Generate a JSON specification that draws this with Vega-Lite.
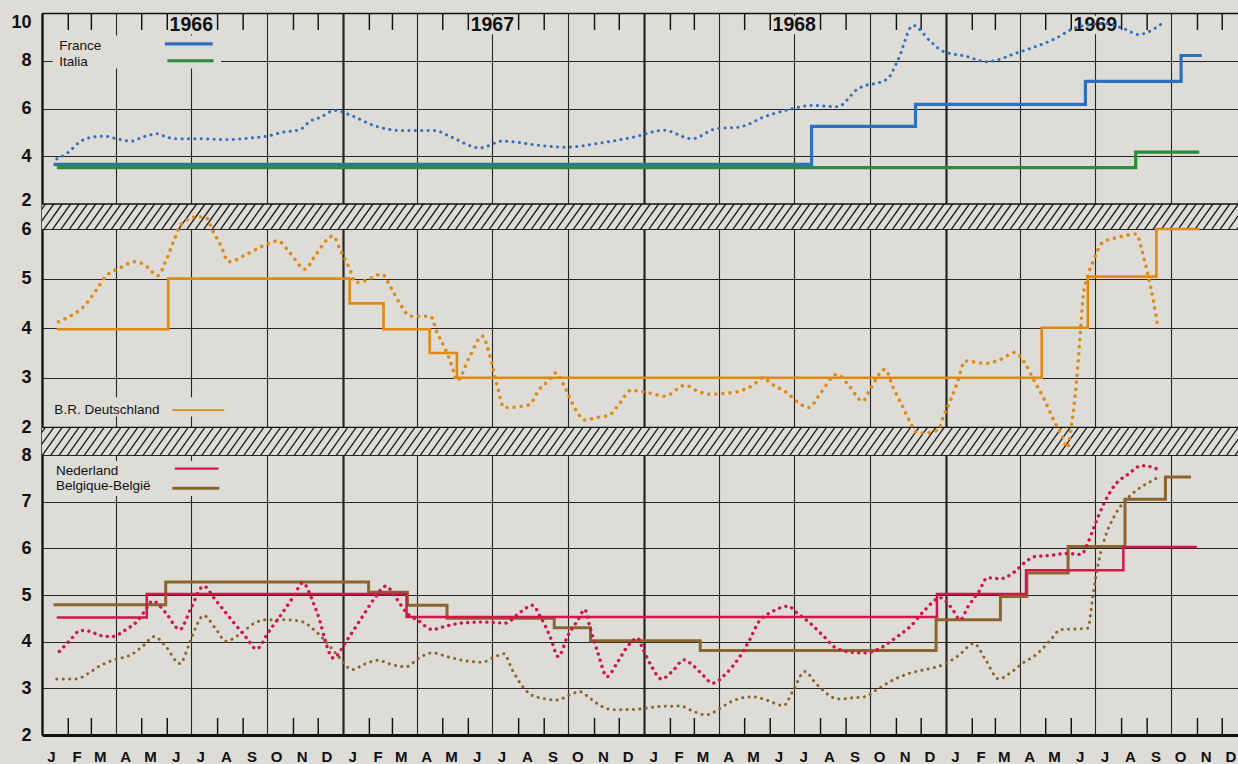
{
"$schema": "https://vega.github.io/schema/vega-lite/v6.json",
"background": "#dddcd7",
"padding": {"left": 10, "top": 13, "right": 0, "bottom": 0},
"spacing": 0,
"bounds": "flush",
"resolve": {"scale": {"x": "independent", "y": "independent"}},
"config": {"view": {"stroke": null}, "axis": {"labelFont": "Liberation Sans", "labelColor": "#111"}},
"datasets": {
"years": [{"yr":"1966","date":"1966-07-01"},{"yr":"1967","date":"1967-07-01"},{"yr":"1968","date":"1968-07-01"},{"yr":"1969","date":"1969-07-01"}],
"fr_step": [{"date":"1966-01-15","v":3.66},{"date":"1968-07-22","v":5.25},{"date":"1968-11-25","v":6.17},{"date":"1969-06-19","v":7.14},{"date":"1969-10-13","v":8.22},{"date":"1969-11-07","v":8.22}],
"it_step": [{"date":"1966-01-19","v":3.52},{"date":"1969-08-19","v":4.17},{"date":"1969-11-04","v":4.17}],
"fr_mkt": [{"date":"1966-01-19","v":3.89},{"date":"1966-02-01","v":4.14},{"date":"1966-02-17","v":4.63},{"date":"1966-03-03","v":4.8},{"date":"1966-03-17","v":4.84},{"date":"1966-04-01","v":4.74},{"date":"1966-04-19","v":4.63},{"date":"1966-05-03","v":4.8},{"date":"1966-05-21","v":4.94},{"date":"1966-06-01","v":4.8},{"date":"1966-06-16","v":4.73},{"date":"1966-07-10","v":4.73},{"date":"1966-08-13","v":4.7},{"date":"1966-09-13","v":4.77},{"date":"1966-10-01","v":4.84},{"date":"1966-10-19","v":5.0},{"date":"1966-11-10","v":5.12},{"date":"1966-11-22","v":5.47},{"date":"1966-12-04","v":5.62},{"date":"1966-12-22","v":5.92},{"date":"1967-01-13","v":5.68},{"date":"1967-02-07","v":5.29},{"date":"1967-03-13","v":5.08},{"date":"1967-04-22","v":5.08},{"date":"1967-05-10","v":4.84},{"date":"1967-06-16","v":4.35},{"date":"1967-07-13","v":4.63},{"date":"1967-07-28","v":4.6},{"date":"1967-08-19","v":4.49},{"date":"1967-09-28","v":4.38},{"date":"1967-11-10","v":4.56},{"date":"1967-12-19","v":4.8},{"date":"1968-01-25","v":5.09},{"date":"1968-02-28","v":4.73},{"date":"1968-03-28","v":5.15},{"date":"1968-04-25","v":5.22},{"date":"1968-05-28","v":5.68},{"date":"1968-06-25","v":5.96},{"date":"1968-07-22","v":6.13},{"date":"1968-08-22","v":6.07},{"date":"1968-09-16","v":6.82},{"date":"1968-10-22","v":7.24},{"date":"1968-11-04","v":8.05},{"date":"1968-11-22","v":9.48},{"date":"1968-12-13","v":8.82},{"date":"1968-12-28","v":8.4},{"date":"1969-01-25","v":8.19},{"date":"1969-02-19","v":7.96},{"date":"1969-03-28","v":8.33},{"date":"1969-05-13","v":8.92},{"date":"1969-06-07","v":9.38},{"date":"1969-07-13","v":9.56},{"date":"1969-08-07","v":9.31},{"date":"1969-08-22","v":9.1},{"date":"1969-09-22","v":9.61}],
"de_step": [{"date":"1966-01-19","v":3.98},{"date":"1966-06-03","v":5.0},{"date":"1967-01-09","v":4.5},{"date":"1967-02-19","v":3.98},{"date":"1967-04-16","v":3.5},{"date":"1967-05-19","v":3.0},{"date":"1969-04-27","v":4.01},{"date":"1969-06-22","v":5.04},{"date":"1969-09-13","v":6.0},{"date":"1969-11-04","v":6.0}],
"de_mkt": [{"date":"1966-01-21","v":4.13},{"date":"1966-02-05","v":4.25},{"date":"1966-02-23","v":4.48},{"date":"1966-03-07","v":4.75},{"date":"1966-03-19","v":5.04},{"date":"1966-04-05","v":5.21},{"date":"1966-04-25","v":5.34},{"date":"1966-05-09","v":5.23},{"date":"1966-05-21","v":5.06},{"date":"1966-06-01","v":5.39},{"date":"1966-06-09","v":5.73},{"date":"1966-06-19","v":6.1},{"date":"1966-07-06","v":6.24},{"date":"1966-07-18","v":6.24},{"date":"1966-07-28","v":5.93},{"date":"1966-08-06","v":5.66},{"date":"1966-08-15","v":5.34},{"date":"1966-09-06","v":5.49},{"date":"1966-09-26","v":5.66},{"date":"1966-10-14","v":5.76},{"date":"1966-10-28","v":5.53},{"date":"1966-11-16","v":5.19},{"date":"1966-11-28","v":5.46},{"date":"1966-12-20","v":5.86},{"date":"1966-12-28","v":5.6},{"date":"1967-01-10","v":5.16},{"date":"1967-01-16","v":4.92},{"date":"1967-01-28","v":4.96},{"date":"1967-02-17","v":5.09},{"date":"1967-02-28","v":4.82},{"date":"1967-03-10","v":4.52},{"date":"1967-03-24","v":4.24},{"date":"1967-04-17","v":4.24},{"date":"1967-04-25","v":3.91},{"date":"1967-05-04","v":3.61},{"date":"1967-05-13","v":3.24},{"date":"1967-05-19","v":2.94},{"date":"1967-06-03","v":3.41},{"date":"1967-06-19","v":3.84},{"date":"1967-06-28","v":3.44},{"date":"1967-07-07","v":2.83},{"date":"1967-07-15","v":2.4},{"date":"1967-08-03","v":2.42},{"date":"1967-08-15","v":2.46},{"date":"1967-08-27","v":2.77},{"date":"1967-09-07","v":2.94},{"date":"1967-09-16","v":3.1},{"date":"1967-09-28","v":2.77},{"date":"1967-10-10","v":2.36},{"date":"1967-10-21","v":2.15},{"date":"1967-11-04","v":2.2},{"date":"1967-11-19","v":2.24},{"date":"1967-12-03","v":2.5},{"date":"1967-12-16","v":2.75},{"date":"1967-12-26","v":2.73},{"date":"1968-01-13","v":2.67},{"date":"1968-01-26","v":2.63},{"date":"1968-02-20","v":2.85},{"date":"1968-03-06","v":2.73},{"date":"1968-03-19","v":2.67},{"date":"1968-04-10","v":2.69},{"date":"1968-04-25","v":2.73},{"date":"1968-05-12","v":2.85},{"date":"1968-05-24","v":3.0},{"date":"1968-06-04","v":2.87},{"date":"1968-06-22","v":2.7},{"date":"1968-07-05","v":2.51},{"date":"1968-07-19","v":2.4},{"date":"1968-08-01","v":2.67},{"date":"1968-08-22","v":3.07},{"date":"1968-09-04","v":2.87},{"date":"1968-09-22","v":2.53},{"date":"1968-10-01","v":2.77},{"date":"1968-10-19","v":3.17},{"date":"1968-10-29","v":2.8},{"date":"1968-11-10","v":2.4},{"date":"1968-11-19","v":2.09},{"date":"1968-11-27","v":1.89},{"date":"1968-12-09","v":1.89},{"date":"1968-12-23","v":1.96},{"date":"1968-12-29","v":2.23},{"date":"1969-01-07","v":2.57},{"date":"1969-01-16","v":2.97},{"date":"1969-01-24","v":3.34},{"date":"1969-02-18","v":3.29},{"date":"1969-03-08","v":3.37},{"date":"1969-03-26","v":3.51},{"date":"1969-04-06","v":3.31},{"date":"1969-04-18","v":2.94},{"date":"1969-04-30","v":2.57},{"date":"1969-05-12","v":2.13},{"date":"1969-05-22","v":1.82},{"date":"1969-05-28","v":1.59},{"date":"1969-06-02","v":2.03},{"date":"1969-06-08","v":2.9},{"date":"1969-06-12","v":3.71},{"date":"1969-06-16","v":4.59},{"date":"1969-06-22","v":5.06},{"date":"1969-06-28","v":5.33},{"date":"1969-07-10","v":5.73},{"date":"1969-07-28","v":5.83},{"date":"1969-08-20","v":5.9},{"date":"1969-08-26","v":5.6},{"date":"1969-09-03","v":5.06},{"date":"1969-09-09","v":4.59},{"date":"1969-09-14","v":4.1}],
"nl_step": [{"date":"1966-01-19","v":4.52},{"date":"1966-05-08","v":5.02},{"date":"1967-03-19","v":4.53},{"date":"1968-12-21","v":5.02},{"date":"1969-04-08","v":5.53},{"date":"1969-08-04","v":6.03},{"date":"1969-11-01","v":6.03}],
"be_step": [{"date":"1966-01-15","v":4.79},{"date":"1966-05-31","v":5.28},{"date":"1967-02-01","v":5.06},{"date":"1967-03-20","v":4.78},{"date":"1967-05-07","v":4.5},{"date":"1967-09-14","v":4.3},{"date":"1967-10-28","v":4.02},{"date":"1968-03-09","v":3.81},{"date":"1968-12-20","v":4.47},{"date":"1969-03-08","v":4.97},{"date":"1969-04-09","v":5.47},{"date":"1969-05-29","v":6.04},{"date":"1969-08-06","v":7.05},{"date":"1969-09-24","v":7.53},{"date":"1969-10-25","v":7.53}],
"nl_mkt": [{"date":"1966-01-22","v":3.79},{"date":"1966-02-03","v":4.01},{"date":"1966-02-17","v":4.24},{"date":"1966-02-28","v":4.22},{"date":"1966-03-13","v":4.13},{"date":"1966-03-27","v":4.11},{"date":"1966-04-13","v":4.26},{"date":"1966-04-27","v":4.45},{"date":"1966-05-07","v":4.69},{"date":"1966-05-15","v":4.87},{"date":"1966-05-31","v":4.62},{"date":"1966-06-17","v":4.26},{"date":"1966-06-30","v":4.69},{"date":"1966-07-16","v":5.19},{"date":"1966-07-30","v":4.9},{"date":"1966-08-20","v":4.44},{"date":"1966-09-06","v":4.08},{"date":"1966-09-18","v":3.84},{"date":"1966-10-02","v":4.19},{"date":"1966-10-18","v":4.58},{"date":"1966-11-02","v":4.97},{"date":"1966-11-13","v":5.26},{"date":"1966-11-26","v":4.83},{"date":"1966-12-04","v":4.44},{"date":"1966-12-10","v":4.04},{"date":"1966-12-20","v":3.65},{"date":"1967-01-06","v":4.04},{"date":"1967-01-22","v":4.47},{"date":"1967-02-07","v":4.9},{"date":"1967-02-22","v":5.19},{"date":"1967-03-06","v":4.94},{"date":"1967-03-19","v":4.62},{"date":"1967-04-03","v":4.44},{"date":"1967-04-19","v":4.26},{"date":"1967-05-05","v":4.33},{"date":"1967-05-25","v":4.4},{"date":"1967-06-19","v":4.42},{"date":"1967-07-17","v":4.4},{"date":"1967-08-03","v":4.62},{"date":"1967-08-19","v":4.78},{"date":"1967-08-28","v":4.54},{"date":"1967-09-09","v":4.11},{"date":"1967-09-19","v":3.68},{"date":"1967-09-30","v":4.11},{"date":"1967-10-13","v":4.47},{"date":"1967-10-21","v":4.69},{"date":"1967-10-27","v":4.33},{"date":"1967-11-06","v":3.76},{"date":"1967-11-17","v":3.25},{"date":"1967-11-29","v":3.54},{"date":"1967-12-12","v":3.9},{"date":"1967-12-24","v":4.08},{"date":"1967-12-30","v":3.86},{"date":"1968-01-10","v":3.47},{"date":"1968-01-22","v":3.2},{"date":"1968-02-06","v":3.4},{"date":"1968-02-18","v":3.61},{"date":"1968-02-28","v":3.51},{"date":"1968-03-12","v":3.29},{"date":"1968-03-24","v":3.11},{"date":"1968-04-10","v":3.33},{"date":"1968-04-26","v":3.68},{"date":"1968-05-08","v":4.04},{"date":"1968-05-18","v":4.4},{"date":"1968-06-04","v":4.64},{"date":"1968-06-24","v":4.76},{"date":"1968-07-04","v":4.62},{"date":"1968-07-20","v":4.4},{"date":"1968-08-06","v":4.11},{"date":"1968-08-21","v":3.86},{"date":"1968-09-11","v":3.77},{"date":"1968-09-27","v":3.76},{"date":"1968-10-13","v":3.86},{"date":"1968-11-03","v":4.11},{"date":"1968-11-19","v":4.33},{"date":"1968-12-07","v":4.69},{"date":"1968-12-25","v":4.94},{"date":"1969-01-09","v":4.69},{"date":"1969-01-18","v":4.47},{"date":"1969-01-28","v":4.76},{"date":"1969-02-10","v":5.08},{"date":"1969-02-20","v":5.37},{"date":"1969-03-08","v":5.35},{"date":"1969-03-24","v":5.48},{"date":"1969-04-06","v":5.69},{"date":"1969-04-18","v":5.82},{"date":"1969-05-08","v":5.85},{"date":"1969-05-28","v":5.89},{"date":"1969-06-14","v":5.87},{"date":"1969-06-22","v":6.12},{"date":"1969-06-30","v":6.48},{"date":"1969-07-12","v":6.98},{"date":"1969-07-24","v":7.34},{"date":"1969-08-10","v":7.59},{"date":"1969-08-26","v":7.77},{"date":"1969-09-08","v":7.74},{"date":"1969-09-18","v":7.66}],
"be_mkt": [{"date":"1966-01-19","v":3.2},{"date":"1966-02-11","v":3.2},{"date":"1966-02-27","v":3.33},{"date":"1966-03-11","v":3.47},{"date":"1966-03-29","v":3.61},{"date":"1966-04-19","v":3.72},{"date":"1966-05-03","v":3.9},{"date":"1966-05-17","v":4.11},{"date":"1966-05-31","v":3.9},{"date":"1966-06-17","v":3.53},{"date":"1966-06-29","v":3.97},{"date":"1966-07-06","v":4.29},{"date":"1966-07-16","v":4.56},{"date":"1966-07-30","v":4.29},{"date":"1966-08-12","v":4.01},{"date":"1966-08-28","v":4.15},{"date":"1966-09-16","v":4.4},{"date":"1966-09-30","v":4.47},{"date":"1966-10-20","v":4.47},{"date":"1966-11-10","v":4.44},{"date":"1966-11-29","v":4.22},{"date":"1966-12-16","v":3.9},{"date":"1966-12-28","v":3.65},{"date":"1967-01-12","v":3.4},{"date":"1967-01-26","v":3.51},{"date":"1967-02-12","v":3.6},{"date":"1967-03-01","v":3.51},{"date":"1967-03-18","v":3.46},{"date":"1967-04-03","v":3.65},{"date":"1967-04-19","v":3.76},{"date":"1967-05-09","v":3.67},{"date":"1967-05-29","v":3.59},{"date":"1967-06-19","v":3.56},{"date":"1967-07-01","v":3.65},{"date":"1967-07-15","v":3.74},{"date":"1967-07-25","v":3.4},{"date":"1967-08-05","v":3.08},{"date":"1967-08-17","v":2.86},{"date":"1967-08-30","v":2.79},{"date":"1967-09-17","v":2.75},{"date":"1967-10-03","v":2.86},{"date":"1967-10-15","v":2.93},{"date":"1967-10-27","v":2.79},{"date":"1967-11-11","v":2.61},{"date":"1967-11-24","v":2.54},{"date":"1967-12-21","v":2.55},{"date":"1968-01-20","v":2.61},{"date":"1968-02-14","v":2.62},{"date":"1968-02-28","v":2.52},{"date":"1968-03-16","v":2.43},{"date":"1968-04-02","v":2.57},{"date":"1968-04-16","v":2.72},{"date":"1968-05-12","v":2.82},{"date":"1968-05-28","v":2.75},{"date":"1968-06-18","v":2.63},{"date":"1968-06-29","v":2.93},{"date":"1968-07-14","v":3.36},{"date":"1968-07-27","v":3.11},{"date":"1968-08-24","v":2.77},{"date":"1968-09-11","v":2.8},{"date":"1968-09-25","v":2.82},{"date":"1968-10-09","v":2.97},{"date":"1968-10-29","v":3.18},{"date":"1968-11-19","v":3.33},{"date":"1968-12-09","v":3.41},{"date":"1968-12-29","v":3.51},{"date":"1969-01-16","v":3.7},{"date":"1969-02-04","v":3.96},{"date":"1969-02-18","v":3.61},{"date":"1969-03-06","v":3.2},{"date":"1969-03-20","v":3.33},{"date":"1969-04-04","v":3.54},{"date":"1969-04-20","v":3.72},{"date":"1969-05-08","v":4.04},{"date":"1969-05-20","v":4.26},{"date":"1969-06-06","v":4.27},{"date":"1969-06-22","v":4.29},{"date":"1969-06-28","v":4.97},{"date":"1969-07-04","v":5.62},{"date":"1969-07-12","v":6.19},{"date":"1969-07-24","v":6.69},{"date":"1969-08-10","v":7.09},{"date":"1969-08-22","v":7.27},{"date":"1969-09-08","v":7.45},{"date":"1969-09-18","v":7.55}]
},
"vconcat": [
{
"width": 1196, "height": 216,
"layer": [
{"data": {"values": [{}]}, "mark": {"type": "rect", "fill": "#dddcd7"}, "encoding": {
 "x": {"datum": {"year":1966,"month":1,"date":1,"utc":true}, "type": "temporal", "scale": {"type": "utc", "nice": false, "domain": [{"year":1966,"month":1,"date":1,"utc":true},{"year":1969,"month":12,"date":21,"utc":true}]},
  "axis": {"orient": "top", "title": null, "tickCount": {"interval": "month", "step": 1}, "labels": false, "ticks": false, "domain": true, "domainColor": "#111", "domainWidth": 1.5, "grid": true, "gridColor": "#111", "gridOpacity": {"condition": {"test": "utcmonth(datum.value) % 3 === 0", "value": 0.9}, "value": 0}, "gridWidth": {"condition": {"test": "utcmonth(datum.value) === 0", "value": 2.2}, "value": 1.1}}},
 "x2": {"datum": {"year":1969,"month":12,"date":21,"utc":true}},
 "y": {"datum": 0.953, "type": "quantitative", "scale": {"domain": [0.953, 10], "nice": false, "zero": false},
  "axis": {"title": null, "values": [2,4,6,8,10], "ticks": false, "domain": true, "domainColor": "#111", "domainWidth": 1.6, "grid": true, "gridColor": "#111", "gridOpacity": 0.9, "gridWidth": 1.1, "labelFontSize": 18, "labelFontWeight": "bold", "labelPadding": 11, "labelFlush": true, "labelOffset": {"condition": {"test": "datum.value === 2", "value": -4}, "value": 0}}},
 "y2": {"datum": 2}}},
{"data": {"values": [{}]}, "mark": {"type": "point", "clip": true, "size": 4, "filled": false, "stroke": "#1c1c1c", "strokeWidth": 1.3, "opacity": 1, "shape": "M-25,28l20,-28m-11.6,28l20,-28m-11.6,28l20,-28m-11.6,28l20,-28m-11.6,28l20,-28m-11.6,28l20,-28m-11.6,28l20,-28m-11.6,28l20,-28m-11.6,28l20,-28m-11.6,28l20,-28m-11.6,28l20,-28m-11.6,28l20,-28m-11.6,28l20,-28m-11.6,28l20,-28m-11.6,28l20,-28m-11.6,28l20,-28m-11.6,28l20,-28m-11.6,28l20,-28m-11.6,28l20,-28m-11.6,28l20,-28m-11.6,28l20,-28m-11.6,28l20,-28m-11.6,28l20,-28m-11.6,28l20,-28m-11.6,28l20,-28m-11.6,28l20,-28m-11.6,28l20,-28m-11.6,28l20,-28m-11.6,28l20,-28m-11.6,28l20,-28m-11.6,28l20,-28m-11.6,28l20,-28m-11.6,28l20,-28m-11.6,28l20,-28m-11.6,28l20,-28m-11.6,28l20,-28m-11.6,28l20,-28m-11.6,28l20,-28m-11.6,28l20,-28m-11.6,28l20,-28m-11.6,28l20,-28m-11.6,28l20,-28m-11.6,28l20,-28m-11.6,28l20,-28m-11.6,28l20,-28m-11.6,28l20,-28m-11.6,28l20,-28m-11.6,28l20,-28m-11.6,28l20,-28m-11.6,28l20,-28m-11.6,28l20,-28m-11.6,28l20,-28m-11.6,28l20,-28m-11.6,28l20,-28m-11.6,28l20,-28m-11.6,28l20,-28m-11.6,28l20,-28m-11.6,28l20,-28m-11.6,28l20,-28m-11.6,28l20,-28m-11.6,28l20,-28m-11.6,28l20,-28m-11.6,28l20,-28m-11.6,28l20,-28m-11.6,28l20,-28m-11.6,28l20,-28m-11.6,28l20,-28m-11.6,28l20,-28m-11.6,28l20,-28m-11.6,28l20,-28m-11.6,28l20,-28m-11.6,28l20,-28m-11.6,28l20,-28m-11.6,28l20,-28m-11.6,28l20,-28m-11.6,28l20,-28m-11.6,28l20,-28m-11.6,28l20,-28m-11.6,28l20,-28m-11.6,28l20,-28m-11.6,28l20,-28m-11.6,28l20,-28m-11.6,28l20,-28m-11.6,28l20,-28m-11.6,28l20,-28m-11.6,28l20,-28m-11.6,28l20,-28m-11.6,28l20,-28m-11.6,28l20,-28m-11.6,28l20,-28m-11.6,28l20,-28m-11.6,28l20,-28m-11.6,28l20,-28m-11.6,28l20,-28m-11.6,28l20,-28m-11.6,28l20,-28m-11.6,28l20,-28m-11.6,28l20,-28m-11.6,28l20,-28m-11.6,28l20,-28m-11.6,28l20,-28m-11.6,28l20,-28m-11.6,28l20,-28m-11.6,28l20,-28m-11.6,28l20,-28m-11.6,28l20,-28m-11.6,28l20,-28m-11.6,28l20,-28m-11.6,28l20,-28m-11.6,28l20,-28m-11.6,28l20,-28m-11.6,28l20,-28m-11.6,28l20,-28m-11.6,28l20,-28m-11.6,28l20,-28m-11.6,28l20,-28m-11.6,28l20,-28m-11.6,28l20,-28m-11.6,28l20,-28m-11.6,28l20,-28m-11.6,28l20,-28m-11.6,28l20,-28m-11.6,28l20,-28m-11.6,28l20,-28m-11.6,28l20,-28m-11.6,28l20,-28m-11.6,28l20,-28m-11.6,28l20,-28m-11.6,28l20,-28m-11.6,28l20,-28m-11.6,28l20,-28m-11.6,28l20,-28m-11.6,28l20,-28m-11.6,28l20,-28m-11.6,28l20,-28m-11.6,28l20,-28m-11.6,28l20,-28m-11.6,28l20,-28m-11.6,28l20,-28m-11.6,28l20,-28m-11.6,28l20,-28m-11.6,28l20,-28m-11.6,28l20,-28m-11.6,28l20,-28m-11.6,28l20,-28m-11.6,28l20,-28m-11.6,28l20,-28m-11.6,28l20,-28m-11.6,28l20,-28m-11.6,28l20,-28m-11.6,28l20,-28m-11.6,28l20,-28m-11.6,28l20,-28m-11.6,28l20,-28m-11.6,28l20,-28m-11.6,28l20,-28m-11.6,28"}, "encoding": {"x": {"datum": {"year":1966,"month":1,"date":1,"utc":true}}, "y": {"datum": 2}}},
{"data": {"values": [{}]}, "mark": {"type": "rule", "color": "#111", "strokeWidth": 1.3}, "encoding": {"x": {"datum": {"year":1966,"month":1,"date":1,"utc":true}}, "x2": {"datum": {"year":1969,"month":12,"date":21,"utc":true}}, "y": {"datum": 2}}},
{"data": {"values": [{}]}, "mark": {"type": "rect", "fill": "#dddcd7"}, "encoding": {"x": {"datum": {"year":1966,"month":1,"date":14,"utc":true}}, "x2": {"datum": {"year":1966,"month":8,"date":6,"utc":true}}, "y": {"datum": 7.68}, "y2": {"datum": 9.06}}},
{"data": {"name": "years"}, "mark": {"type": "point", "shape": "M-1,-0.4L1,-0.4L1,0.4L-1,0.4Z", "size": 2116, "filled": true, "fill": "#dddcd7", "strokeWidth": 0, "opacity": 1}, "encoding": {"x": {"field": "date", "type": "temporal"}, "y": {"datum": 9.5}}},
{"data": {"name": "years"}, "mark": {"type": "text", "font": "Liberation Sans", "fontSize": 19.5, "fontWeight": "bold", "color": "#111", "align": "center", "baseline": "middle"}, "encoding": {"x": {"field": "date", "type": "temporal"}, "y": {"datum": 9.5}, "text": {"field": "yr", "type": "nominal"}}},
{"data":{"values":[{}]},"mark":{"type":"rect","fill":"#111"},"encoding":{"x":{"datum":{"year":1966,"month":2,"date":1,"utc":true}},"x2":{"datum":{"year":1966,"month":2,"date":2,"hours":18,"utc":true}},"y":{"datum":10},"y2":{"datum":9.29}}},
{"data":{"values":[{}]},"mark":{"type":"rect","fill":"#111"},"encoding":{"x":{"datum":{"year":1966,"month":3,"date":1,"utc":true}},"x2":{"datum":{"year":1966,"month":3,"date":2,"hours":18,"utc":true}},"y":{"datum":10},"y2":{"datum":9.29}}},
{"data":{"values":[{}]},"mark":{"type":"rect","fill":"#111"},"encoding":{"x":{"datum":{"year":1966,"month":5,"date":1,"utc":true}},"x2":{"datum":{"year":1966,"month":5,"date":2,"hours":18,"utc":true}},"y":{"datum":10},"y2":{"datum":9.29}}},
{"data":{"values":[{}]},"mark":{"type":"rect","fill":"#111"},"encoding":{"x":{"datum":{"year":1966,"month":6,"date":1,"utc":true}},"x2":{"datum":{"year":1966,"month":6,"date":2,"hours":18,"utc":true}},"y":{"datum":10},"y2":{"datum":9.29}}},
{"data":{"values":[{}]},"mark":{"type":"rect","fill":"#111"},"encoding":{"x":{"datum":{"year":1966,"month":8,"date":1,"utc":true}},"x2":{"datum":{"year":1966,"month":8,"date":2,"hours":18,"utc":true}},"y":{"datum":10},"y2":{"datum":9.29}}},
{"data":{"values":[{}]},"mark":{"type":"rect","fill":"#111"},"encoding":{"x":{"datum":{"year":1966,"month":9,"date":1,"utc":true}},"x2":{"datum":{"year":1966,"month":9,"date":2,"hours":18,"utc":true}},"y":{"datum":10},"y2":{"datum":9.29}}},
{"data":{"values":[{}]},"mark":{"type":"rect","fill":"#111"},"encoding":{"x":{"datum":{"year":1966,"month":11,"date":1,"utc":true}},"x2":{"datum":{"year":1966,"month":11,"date":2,"hours":18,"utc":true}},"y":{"datum":10},"y2":{"datum":9.29}}},
{"data":{"values":[{}]},"mark":{"type":"rect","fill":"#111"},"encoding":{"x":{"datum":{"year":1966,"month":12,"date":1,"utc":true}},"x2":{"datum":{"year":1966,"month":12,"date":2,"hours":18,"utc":true}},"y":{"datum":10},"y2":{"datum":9.29}}},
{"data":{"values":[{}]},"mark":{"type":"rect","fill":"#111"},"encoding":{"x":{"datum":{"year":1967,"month":2,"date":1,"utc":true}},"x2":{"datum":{"year":1967,"month":2,"date":2,"hours":18,"utc":true}},"y":{"datum":10},"y2":{"datum":9.29}}},
{"data":{"values":[{}]},"mark":{"type":"rect","fill":"#111"},"encoding":{"x":{"datum":{"year":1967,"month":3,"date":1,"utc":true}},"x2":{"datum":{"year":1967,"month":3,"date":2,"hours":18,"utc":true}},"y":{"datum":10},"y2":{"datum":9.29}}},
{"data":{"values":[{}]},"mark":{"type":"rect","fill":"#111"},"encoding":{"x":{"datum":{"year":1967,"month":5,"date":1,"utc":true}},"x2":{"datum":{"year":1967,"month":5,"date":2,"hours":18,"utc":true}},"y":{"datum":10},"y2":{"datum":9.29}}},
{"data":{"values":[{}]},"mark":{"type":"rect","fill":"#111"},"encoding":{"x":{"datum":{"year":1967,"month":6,"date":1,"utc":true}},"x2":{"datum":{"year":1967,"month":6,"date":2,"hours":18,"utc":true}},"y":{"datum":10},"y2":{"datum":9.29}}},
{"data":{"values":[{}]},"mark":{"type":"rect","fill":"#111"},"encoding":{"x":{"datum":{"year":1967,"month":8,"date":1,"utc":true}},"x2":{"datum":{"year":1967,"month":8,"date":2,"hours":18,"utc":true}},"y":{"datum":10},"y2":{"datum":9.29}}},
{"data":{"values":[{}]},"mark":{"type":"rect","fill":"#111"},"encoding":{"x":{"datum":{"year":1967,"month":9,"date":1,"utc":true}},"x2":{"datum":{"year":1967,"month":9,"date":2,"hours":18,"utc":true}},"y":{"datum":10},"y2":{"datum":9.29}}},
{"data":{"values":[{}]},"mark":{"type":"rect","fill":"#111"},"encoding":{"x":{"datum":{"year":1967,"month":11,"date":1,"utc":true}},"x2":{"datum":{"year":1967,"month":11,"date":2,"hours":18,"utc":true}},"y":{"datum":10},"y2":{"datum":9.29}}},
{"data":{"values":[{}]},"mark":{"type":"rect","fill":"#111"},"encoding":{"x":{"datum":{"year":1967,"month":12,"date":1,"utc":true}},"x2":{"datum":{"year":1967,"month":12,"date":2,"hours":18,"utc":true}},"y":{"datum":10},"y2":{"datum":9.29}}},
{"data":{"values":[{}]},"mark":{"type":"rect","fill":"#111"},"encoding":{"x":{"datum":{"year":1968,"month":2,"date":1,"utc":true}},"x2":{"datum":{"year":1968,"month":2,"date":2,"hours":18,"utc":true}},"y":{"datum":10},"y2":{"datum":9.29}}},
{"data":{"values":[{}]},"mark":{"type":"rect","fill":"#111"},"encoding":{"x":{"datum":{"year":1968,"month":3,"date":1,"utc":true}},"x2":{"datum":{"year":1968,"month":3,"date":2,"hours":18,"utc":true}},"y":{"datum":10},"y2":{"datum":9.29}}},
{"data":{"values":[{}]},"mark":{"type":"rect","fill":"#111"},"encoding":{"x":{"datum":{"year":1968,"month":5,"date":1,"utc":true}},"x2":{"datum":{"year":1968,"month":5,"date":2,"hours":18,"utc":true}},"y":{"datum":10},"y2":{"datum":9.29}}},
{"data":{"values":[{}]},"mark":{"type":"rect","fill":"#111"},"encoding":{"x":{"datum":{"year":1968,"month":6,"date":1,"utc":true}},"x2":{"datum":{"year":1968,"month":6,"date":2,"hours":18,"utc":true}},"y":{"datum":10},"y2":{"datum":9.29}}},
{"data":{"values":[{}]},"mark":{"type":"rect","fill":"#111"},"encoding":{"x":{"datum":{"year":1968,"month":8,"date":1,"utc":true}},"x2":{"datum":{"year":1968,"month":8,"date":2,"hours":18,"utc":true}},"y":{"datum":10},"y2":{"datum":9.29}}},
{"data":{"values":[{}]},"mark":{"type":"rect","fill":"#111"},"encoding":{"x":{"datum":{"year":1968,"month":9,"date":1,"utc":true}},"x2":{"datum":{"year":1968,"month":9,"date":2,"hours":18,"utc":true}},"y":{"datum":10},"y2":{"datum":9.29}}},
{"data":{"values":[{}]},"mark":{"type":"rect","fill":"#111"},"encoding":{"x":{"datum":{"year":1968,"month":11,"date":1,"utc":true}},"x2":{"datum":{"year":1968,"month":11,"date":2,"hours":18,"utc":true}},"y":{"datum":10},"y2":{"datum":9.29}}},
{"data":{"values":[{}]},"mark":{"type":"rect","fill":"#111"},"encoding":{"x":{"datum":{"year":1968,"month":12,"date":1,"utc":true}},"x2":{"datum":{"year":1968,"month":12,"date":2,"hours":18,"utc":true}},"y":{"datum":10},"y2":{"datum":9.29}}},
{"data":{"values":[{}]},"mark":{"type":"rect","fill":"#111"},"encoding":{"x":{"datum":{"year":1969,"month":2,"date":1,"utc":true}},"x2":{"datum":{"year":1969,"month":2,"date":2,"hours":18,"utc":true}},"y":{"datum":10},"y2":{"datum":9.29}}},
{"data":{"values":[{}]},"mark":{"type":"rect","fill":"#111"},"encoding":{"x":{"datum":{"year":1969,"month":3,"date":1,"utc":true}},"x2":{"datum":{"year":1969,"month":3,"date":2,"hours":18,"utc":true}},"y":{"datum":10},"y2":{"datum":9.29}}},
{"data":{"values":[{}]},"mark":{"type":"rect","fill":"#111"},"encoding":{"x":{"datum":{"year":1969,"month":5,"date":1,"utc":true}},"x2":{"datum":{"year":1969,"month":5,"date":2,"hours":18,"utc":true}},"y":{"datum":10},"y2":{"datum":9.29}}},
{"data":{"values":[{}]},"mark":{"type":"rect","fill":"#111"},"encoding":{"x":{"datum":{"year":1969,"month":6,"date":1,"utc":true}},"x2":{"datum":{"year":1969,"month":6,"date":2,"hours":18,"utc":true}},"y":{"datum":10},"y2":{"datum":9.29}}},
{"data":{"values":[{}]},"mark":{"type":"rect","fill":"#111"},"encoding":{"x":{"datum":{"year":1969,"month":8,"date":1,"utc":true}},"x2":{"datum":{"year":1969,"month":8,"date":2,"hours":18,"utc":true}},"y":{"datum":10},"y2":{"datum":9.29}}},
{"data":{"values":[{}]},"mark":{"type":"rect","fill":"#111"},"encoding":{"x":{"datum":{"year":1969,"month":9,"date":1,"utc":true}},"x2":{"datum":{"year":1969,"month":9,"date":2,"hours":18,"utc":true}},"y":{"datum":10},"y2":{"datum":9.29}}},
{"data":{"values":[{}]},"mark":{"type":"rect","fill":"#111"},"encoding":{"x":{"datum":{"year":1969,"month":11,"date":1,"utc":true}},"x2":{"datum":{"year":1969,"month":11,"date":2,"hours":18,"utc":true}},"y":{"datum":10},"y2":{"datum":9.29}}},
{"data":{"values":[{}]},"mark":{"type":"rect","fill":"#111"},"encoding":{"x":{"datum":{"year":1969,"month":12,"date":1,"utc":true}},"x2":{"datum":{"year":1969,"month":12,"date":2,"hours":18,"utc":true}},"y":{"datum":10},"y2":{"datum":9.29}}},
{"data": {"values": [{}]}, "mark": {"type": "text", "font": "Liberation Sans", "fontSize": 13.5, "color": "#111", "align": "left", "baseline": "middle"}, "encoding": {"x": {"datum": {"year":1966,"month":1,"date":22,"utc":true}}, "y": {"datum": 8.61}, "text": {"value": "France"}}},
{"data": {"values": [{}]}, "mark": {"type": "text", "font": "Liberation Sans", "fontSize": 13.5, "color": "#111", "align": "left", "baseline": "middle"}, "encoding": {"x": {"datum": {"year":1966,"month":1,"date":22,"utc":true}}, "y": {"datum": 7.96}, "text": {"value": "Italia"}}},
{"data": {"values": [{}]}, "mark": {"type": "rule", "color": "#2f6fc0", "strokeWidth": 3.2}, "encoding": {"x": {"datum": {"year":1966,"month":5,"date":30,"utc":true}}, "x2": {"datum": {"year":1966,"month":7,"date":27,"utc":true}}, "y": {"datum": 8.71}}},
{"data": {"values": [{}]}, "mark": {"type": "rule", "color": "#2e8b3e", "strokeWidth": 3.2}, "encoding": {"x": {"datum": {"year":1966,"month":6,"date":2,"utc":true}}, "x2": {"datum": {"year":1966,"month":7,"date":28,"utc":true}}, "y": {"datum": 8.0}}},
{"data": {"name": "it_step"}, "mark": {"type": "line", "interpolate": "step-after", "color": "#2e8b3e", "strokeWidth": 3.2}, "encoding": {"x": {"field": "date", "type": "temporal"}, "y": {"field": "v", "type": "quantitative"}}},
{"data": {"name": "fr_step"}, "mark": {"type": "line", "interpolate": "step-after", "color": "#2f6fc0", "strokeWidth": 3.2}, "encoding": {"x": {"field": "date", "type": "temporal"}, "y": {"field": "v", "type": "quantitative"}}},
{"data": {"name": "fr_mkt"}, "mark": {"type": "line", "interpolate": "monotone", "color": "#2f6fc0", "strokeWidth": 3, "strokeDash": [0.1, 6.3], "strokeCap": "round"}, "encoding": {"x": {"field": "date", "type": "temporal"}, "y": {"field": "v", "type": "quantitative"}}}
]
},
{
"width": 1196, "height": 226,
"layer": [
{"data": {"values": [{}]}, "mark": {"type": "rect", "fill": "#dddcd7"}, "encoding": {
 "x": {"datum": {"year":1966,"month":1,"date":1,"utc":true}, "type": "temporal", "scale": {"type": "utc", "nice": false, "domain": [{"year":1966,"month":1,"date":1,"utc":true},{"year":1969,"month":12,"date":21,"utc":true}]},
  "axis": {"orient": "bottom", "title": null, "tickCount": {"interval": "month", "step": 1}, "labels": false, "ticks": false, "domain": false, "grid": true, "gridColor": "#111", "gridOpacity": {"condition": {"test": "utcmonth(datum.value) % 3 === 0", "value": 0.9}, "value": 0}, "gridWidth": {"condition": {"test": "utcmonth(datum.value) === 0", "value": 2.2}, "value": 1.1}}},
 "x2": {"datum": {"year":1969,"month":12,"date":21,"utc":true}},
 "y": {"datum": 1.444, "type": "quantitative", "scale": {"domain": [1.444, 6], "nice": false, "zero": false},
  "axis": {"title": null, "values": [2,3,4,5,6], "ticks": false, "domain": true, "domainColor": "#111", "domainWidth": 1.6, "grid": true, "gridColor": "#111", "gridOpacity": 0.9, "gridWidth": 1.1, "labelFontSize": 18, "labelFontWeight": "bold", "labelPadding": 11}},
 "y2": {"datum": 2}}},
{"data": {"values": [{}]}, "mark": {"type": "point", "clip": true, "size": 4, "filled": false, "stroke": "#1c1c1c", "strokeWidth": 1.3, "opacity": 1, "shape": "M-25,28l20,-28m-11.6,28l20,-28m-11.6,28l20,-28m-11.6,28l20,-28m-11.6,28l20,-28m-11.6,28l20,-28m-11.6,28l20,-28m-11.6,28l20,-28m-11.6,28l20,-28m-11.6,28l20,-28m-11.6,28l20,-28m-11.6,28l20,-28m-11.6,28l20,-28m-11.6,28l20,-28m-11.6,28l20,-28m-11.6,28l20,-28m-11.6,28l20,-28m-11.6,28l20,-28m-11.6,28l20,-28m-11.6,28l20,-28m-11.6,28l20,-28m-11.6,28l20,-28m-11.6,28l20,-28m-11.6,28l20,-28m-11.6,28l20,-28m-11.6,28l20,-28m-11.6,28l20,-28m-11.6,28l20,-28m-11.6,28l20,-28m-11.6,28l20,-28m-11.6,28l20,-28m-11.6,28l20,-28m-11.6,28l20,-28m-11.6,28l20,-28m-11.6,28l20,-28m-11.6,28l20,-28m-11.6,28l20,-28m-11.6,28l20,-28m-11.6,28l20,-28m-11.6,28l20,-28m-11.6,28l20,-28m-11.6,28l20,-28m-11.6,28l20,-28m-11.6,28l20,-28m-11.6,28l20,-28m-11.6,28l20,-28m-11.6,28l20,-28m-11.6,28l20,-28m-11.6,28l20,-28m-11.6,28l20,-28m-11.6,28l20,-28m-11.6,28l20,-28m-11.6,28l20,-28m-11.6,28l20,-28m-11.6,28l20,-28m-11.6,28l20,-28m-11.6,28l20,-28m-11.6,28l20,-28m-11.6,28l20,-28m-11.6,28l20,-28m-11.6,28l20,-28m-11.6,28l20,-28m-11.6,28l20,-28m-11.6,28l20,-28m-11.6,28l20,-28m-11.6,28l20,-28m-11.6,28l20,-28m-11.6,28l20,-28m-11.6,28l20,-28m-11.6,28l20,-28m-11.6,28l20,-28m-11.6,28l20,-28m-11.6,28l20,-28m-11.6,28l20,-28m-11.6,28l20,-28m-11.6,28l20,-28m-11.6,28l20,-28m-11.6,28l20,-28m-11.6,28l20,-28m-11.6,28l20,-28m-11.6,28l20,-28m-11.6,28l20,-28m-11.6,28l20,-28m-11.6,28l20,-28m-11.6,28l20,-28m-11.6,28l20,-28m-11.6,28l20,-28m-11.6,28l20,-28m-11.6,28l20,-28m-11.6,28l20,-28m-11.6,28l20,-28m-11.6,28l20,-28m-11.6,28l20,-28m-11.6,28l20,-28m-11.6,28l20,-28m-11.6,28l20,-28m-11.6,28l20,-28m-11.6,28l20,-28m-11.6,28l20,-28m-11.6,28l20,-28m-11.6,28l20,-28m-11.6,28l20,-28m-11.6,28l20,-28m-11.6,28l20,-28m-11.6,28l20,-28m-11.6,28l20,-28m-11.6,28l20,-28m-11.6,28l20,-28m-11.6,28l20,-28m-11.6,28l20,-28m-11.6,28l20,-28m-11.6,28l20,-28m-11.6,28l20,-28m-11.6,28l20,-28m-11.6,28l20,-28m-11.6,28l20,-28m-11.6,28l20,-28m-11.6,28l20,-28m-11.6,28l20,-28m-11.6,28l20,-28m-11.6,28l20,-28m-11.6,28l20,-28m-11.6,28l20,-28m-11.6,28l20,-28m-11.6,28l20,-28m-11.6,28l20,-28m-11.6,28l20,-28m-11.6,28l20,-28m-11.6,28l20,-28m-11.6,28l20,-28m-11.6,28l20,-28m-11.6,28l20,-28m-11.6,28l20,-28m-11.6,28l20,-28m-11.6,28l20,-28m-11.6,28l20,-28m-11.6,28l20,-28m-11.6,28l20,-28m-11.6,28l20,-28m-11.6,28l20,-28m-11.6,28l20,-28m-11.6,28l20,-28m-11.6,28l20,-28m-11.6,28l20,-28m-11.6,28l20,-28m-11.6,28l20,-28m-11.6,28l20,-28m-11.6,28l20,-28m-11.6,28l20,-28m-11.6,28l20,-28m-11.6,28l20,-28m-11.6,28l20,-28m-11.6,28l20,-28m-11.6,28l20,-28m-11.6,28l20,-28m-11.6,28l20,-28m-11.6,28l20,-28m-11.6,28l20,-28m-11.6,28l20,-28m-11.6,28l20,-28m-11.6,28l20,-28m-11.6,28l20,-28m-11.6,28l20,-28m-11.6,28"}, "encoding": {"x": {"datum": {"year":1966,"month":1,"date":1,"utc":true}}, "y": {"datum": 2}}},
{"data": {"values": [{}]}, "mark": {"type": "rule", "color": "#111", "strokeWidth": 1.3}, "encoding": {"x": {"datum": {"year":1966,"month":1,"date":1,"utc":true}}, "x2": {"datum": {"year":1969,"month":12,"date":21,"utc":true}}, "y": {"datum": 2}}},
{"data": {"values": [{}]}, "mark": {"type": "rect", "fill": "#dddcd7"}, "encoding": {"x": {"datum": {"year":1966,"month":1,"date":14,"utc":true}}, "x2": {"datum": {"year":1966,"month":8,"date":14,"utc":true}}, "y": {"datum": 2.22}, "y2": {"datum": 2.61}}},
{"data": {"values": [{}]}, "mark": {"type": "text", "font": "Liberation Sans", "fontSize": 13.5, "color": "#111", "align": "left", "baseline": "middle"}, "encoding": {"x": {"datum": {"year":1966,"month":1,"date":16,"utc":true}}, "y": {"datum": 2.35}, "text": {"value": "B.R. Deutschland"}}},
{"data": {"values": [{}]}, "mark": {"type": "rule", "color": "#e08a14", "strokeWidth": 1.8}, "encoding": {"x": {"datum": {"year":1966,"month":6,"date":8,"utc":true}}, "x2": {"datum": {"year":1966,"month":8,"date":10,"utc":true}}, "y": {"datum": 2.35}}},
{"data": {"name": "de_step"}, "mark": {"type": "line", "interpolate": "step-after", "color": "#e08a14", "strokeWidth": 2.6}, "encoding": {"x": {"field": "date", "type": "temporal"}, "y": {"field": "v", "type": "quantitative"}}},
{"data": {"name": "de_mkt"}, "mark": {"type": "line", "interpolate": "monotone", "color": "#e08a14", "strokeWidth": 3.5, "strokeDash": [0.1, 7], "strokeCap": "round"}, "encoding": {"x": {"field": "date", "type": "temporal"}, "y": {"field": "v", "type": "quantitative"}}}
]
},
{
"width": 1196, "height": 280,
"layer": [
{"data": {"values": [{}]}, "mark": {"type": "rect", "fill": "#dddcd7"}, "encoding": {
 "x": {"datum": {"year":1966,"month":1,"date":11,"utc":true}, "type": "temporal", "scale": {"type": "utc", "nice": false, "domain": [{"year":1966,"month":1,"date":1,"utc":true},{"year":1969,"month":12,"date":21,"utc":true}]},
  "axis": {"orient": "bottom", "title": null, "tickCount": {"interval": "month", "step": 1}, "ticks": false, "domain": true, "domainColor": "#111", "domainWidth": 3, "grid": true, "gridColor": "#111", "gridOpacity": {"condition": {"test": "utcmonth(datum.value) % 3 === 0", "value": 0.9}, "value": 0}, "gridWidth": {"condition": {"test": "utcmonth(datum.value) === 0", "value": 2.2}, "value": 1.1}, "labels": true, "labelExpr": "upper(substring(utcFormat(datum.value, '%B'), 0, 1))", "labelFontSize": 15, "labelFontWeight": "bold", "labelBaseline": "alphabetic", "labelAlign": "center", "labelPadding": 26.5, "labelOffset": 9, "labelFlush": false, "labelOverlap": false, "labelBound": false}},
 "x2": {"datum": {"year":1966,"month":8,"date":10,"utc":true}},
 "y": {"datum": 7.12, "type": "quantitative", "scale": {"domain": [2, 8], "nice": false, "zero": false},
  "axis": {"title": null, "values": [2,3,4,5,6,7,8], "ticks": false, "domain": true, "domainColor": "#111", "domainWidth": 1.6, "grid": true, "gridColor": "#111", "gridOpacity": 0.9, "gridWidth": 1.1, "labelFontSize": 18, "labelFontWeight": "bold", "labelPadding": 11}},
 "y2": {"datum": 7.87}}},
{"data":{"values":[{}]},"mark":{"type":"rect","fill":"#111"},"encoding":{"x":{"datum":{"year":1966,"month":2,"date":1,"utc":true}},"x2":{"datum":{"year":1966,"month":2,"date":2,"hours":18,"utc":true}},"y":{"datum":2},"y2":{"datum":2.364}}},
{"data":{"values":[{}]},"mark":{"type":"rect","fill":"#111"},"encoding":{"x":{"datum":{"year":1966,"month":3,"date":1,"utc":true}},"x2":{"datum":{"year":1966,"month":3,"date":2,"hours":18,"utc":true}},"y":{"datum":2},"y2":{"datum":2.364}}},
{"data":{"values":[{}]},"mark":{"type":"rect","fill":"#111"},"encoding":{"x":{"datum":{"year":1966,"month":5,"date":1,"utc":true}},"x2":{"datum":{"year":1966,"month":5,"date":2,"hours":18,"utc":true}},"y":{"datum":2},"y2":{"datum":2.364}}},
{"data":{"values":[{}]},"mark":{"type":"rect","fill":"#111"},"encoding":{"x":{"datum":{"year":1966,"month":6,"date":1,"utc":true}},"x2":{"datum":{"year":1966,"month":6,"date":2,"hours":18,"utc":true}},"y":{"datum":2},"y2":{"datum":2.364}}},
{"data":{"values":[{}]},"mark":{"type":"rect","fill":"#111"},"encoding":{"x":{"datum":{"year":1966,"month":8,"date":1,"utc":true}},"x2":{"datum":{"year":1966,"month":8,"date":2,"hours":18,"utc":true}},"y":{"datum":2},"y2":{"datum":2.364}}},
{"data":{"values":[{}]},"mark":{"type":"rect","fill":"#111"},"encoding":{"x":{"datum":{"year":1966,"month":9,"date":1,"utc":true}},"x2":{"datum":{"year":1966,"month":9,"date":2,"hours":18,"utc":true}},"y":{"datum":2},"y2":{"datum":2.364}}},
{"data":{"values":[{}]},"mark":{"type":"rect","fill":"#111"},"encoding":{"x":{"datum":{"year":1966,"month":11,"date":1,"utc":true}},"x2":{"datum":{"year":1966,"month":11,"date":2,"hours":18,"utc":true}},"y":{"datum":2},"y2":{"datum":2.364}}},
{"data":{"values":[{}]},"mark":{"type":"rect","fill":"#111"},"encoding":{"x":{"datum":{"year":1966,"month":12,"date":1,"utc":true}},"x2":{"datum":{"year":1966,"month":12,"date":2,"hours":18,"utc":true}},"y":{"datum":2},"y2":{"datum":2.364}}},
{"data":{"values":[{}]},"mark":{"type":"rect","fill":"#111"},"encoding":{"x":{"datum":{"year":1967,"month":2,"date":1,"utc":true}},"x2":{"datum":{"year":1967,"month":2,"date":2,"hours":18,"utc":true}},"y":{"datum":2},"y2":{"datum":2.364}}},
{"data":{"values":[{}]},"mark":{"type":"rect","fill":"#111"},"encoding":{"x":{"datum":{"year":1967,"month":3,"date":1,"utc":true}},"x2":{"datum":{"year":1967,"month":3,"date":2,"hours":18,"utc":true}},"y":{"datum":2},"y2":{"datum":2.364}}},
{"data":{"values":[{}]},"mark":{"type":"rect","fill":"#111"},"encoding":{"x":{"datum":{"year":1967,"month":5,"date":1,"utc":true}},"x2":{"datum":{"year":1967,"month":5,"date":2,"hours":18,"utc":true}},"y":{"datum":2},"y2":{"datum":2.364}}},
{"data":{"values":[{}]},"mark":{"type":"rect","fill":"#111"},"encoding":{"x":{"datum":{"year":1967,"month":6,"date":1,"utc":true}},"x2":{"datum":{"year":1967,"month":6,"date":2,"hours":18,"utc":true}},"y":{"datum":2},"y2":{"datum":2.364}}},
{"data":{"values":[{}]},"mark":{"type":"rect","fill":"#111"},"encoding":{"x":{"datum":{"year":1967,"month":8,"date":1,"utc":true}},"x2":{"datum":{"year":1967,"month":8,"date":2,"hours":18,"utc":true}},"y":{"datum":2},"y2":{"datum":2.364}}},
{"data":{"values":[{}]},"mark":{"type":"rect","fill":"#111"},"encoding":{"x":{"datum":{"year":1967,"month":9,"date":1,"utc":true}},"x2":{"datum":{"year":1967,"month":9,"date":2,"hours":18,"utc":true}},"y":{"datum":2},"y2":{"datum":2.364}}},
{"data":{"values":[{}]},"mark":{"type":"rect","fill":"#111"},"encoding":{"x":{"datum":{"year":1967,"month":11,"date":1,"utc":true}},"x2":{"datum":{"year":1967,"month":11,"date":2,"hours":18,"utc":true}},"y":{"datum":2},"y2":{"datum":2.364}}},
{"data":{"values":[{}]},"mark":{"type":"rect","fill":"#111"},"encoding":{"x":{"datum":{"year":1967,"month":12,"date":1,"utc":true}},"x2":{"datum":{"year":1967,"month":12,"date":2,"hours":18,"utc":true}},"y":{"datum":2},"y2":{"datum":2.364}}},
{"data":{"values":[{}]},"mark":{"type":"rect","fill":"#111"},"encoding":{"x":{"datum":{"year":1968,"month":2,"date":1,"utc":true}},"x2":{"datum":{"year":1968,"month":2,"date":2,"hours":18,"utc":true}},"y":{"datum":2},"y2":{"datum":2.364}}},
{"data":{"values":[{}]},"mark":{"type":"rect","fill":"#111"},"encoding":{"x":{"datum":{"year":1968,"month":3,"date":1,"utc":true}},"x2":{"datum":{"year":1968,"month":3,"date":2,"hours":18,"utc":true}},"y":{"datum":2},"y2":{"datum":2.364}}},
{"data":{"values":[{}]},"mark":{"type":"rect","fill":"#111"},"encoding":{"x":{"datum":{"year":1968,"month":5,"date":1,"utc":true}},"x2":{"datum":{"year":1968,"month":5,"date":2,"hours":18,"utc":true}},"y":{"datum":2},"y2":{"datum":2.364}}},
{"data":{"values":[{}]},"mark":{"type":"rect","fill":"#111"},"encoding":{"x":{"datum":{"year":1968,"month":6,"date":1,"utc":true}},"x2":{"datum":{"year":1968,"month":6,"date":2,"hours":18,"utc":true}},"y":{"datum":2},"y2":{"datum":2.364}}},
{"data":{"values":[{}]},"mark":{"type":"rect","fill":"#111"},"encoding":{"x":{"datum":{"year":1968,"month":8,"date":1,"utc":true}},"x2":{"datum":{"year":1968,"month":8,"date":2,"hours":18,"utc":true}},"y":{"datum":2},"y2":{"datum":2.364}}},
{"data":{"values":[{}]},"mark":{"type":"rect","fill":"#111"},"encoding":{"x":{"datum":{"year":1968,"month":9,"date":1,"utc":true}},"x2":{"datum":{"year":1968,"month":9,"date":2,"hours":18,"utc":true}},"y":{"datum":2},"y2":{"datum":2.364}}},
{"data":{"values":[{}]},"mark":{"type":"rect","fill":"#111"},"encoding":{"x":{"datum":{"year":1968,"month":11,"date":1,"utc":true}},"x2":{"datum":{"year":1968,"month":11,"date":2,"hours":18,"utc":true}},"y":{"datum":2},"y2":{"datum":2.364}}},
{"data":{"values":[{}]},"mark":{"type":"rect","fill":"#111"},"encoding":{"x":{"datum":{"year":1968,"month":12,"date":1,"utc":true}},"x2":{"datum":{"year":1968,"month":12,"date":2,"hours":18,"utc":true}},"y":{"datum":2},"y2":{"datum":2.364}}},
{"data":{"values":[{}]},"mark":{"type":"rect","fill":"#111"},"encoding":{"x":{"datum":{"year":1969,"month":2,"date":1,"utc":true}},"x2":{"datum":{"year":1969,"month":2,"date":2,"hours":18,"utc":true}},"y":{"datum":2},"y2":{"datum":2.364}}},
{"data":{"values":[{}]},"mark":{"type":"rect","fill":"#111"},"encoding":{"x":{"datum":{"year":1969,"month":3,"date":1,"utc":true}},"x2":{"datum":{"year":1969,"month":3,"date":2,"hours":18,"utc":true}},"y":{"datum":2},"y2":{"datum":2.364}}},
{"data":{"values":[{}]},"mark":{"type":"rect","fill":"#111"},"encoding":{"x":{"datum":{"year":1969,"month":5,"date":1,"utc":true}},"x2":{"datum":{"year":1969,"month":5,"date":2,"hours":18,"utc":true}},"y":{"datum":2},"y2":{"datum":2.364}}},
{"data":{"values":[{}]},"mark":{"type":"rect","fill":"#111"},"encoding":{"x":{"datum":{"year":1969,"month":6,"date":1,"utc":true}},"x2":{"datum":{"year":1969,"month":6,"date":2,"hours":18,"utc":true}},"y":{"datum":2},"y2":{"datum":2.364}}},
{"data":{"values":[{}]},"mark":{"type":"rect","fill":"#111"},"encoding":{"x":{"datum":{"year":1969,"month":8,"date":1,"utc":true}},"x2":{"datum":{"year":1969,"month":8,"date":2,"hours":18,"utc":true}},"y":{"datum":2},"y2":{"datum":2.364}}},
{"data":{"values":[{}]},"mark":{"type":"rect","fill":"#111"},"encoding":{"x":{"datum":{"year":1969,"month":9,"date":1,"utc":true}},"x2":{"datum":{"year":1969,"month":9,"date":2,"hours":18,"utc":true}},"y":{"datum":2},"y2":{"datum":2.364}}},
{"data":{"values":[{}]},"mark":{"type":"rect","fill":"#111"},"encoding":{"x":{"datum":{"year":1969,"month":11,"date":1,"utc":true}},"x2":{"datum":{"year":1969,"month":11,"date":2,"hours":18,"utc":true}},"y":{"datum":2},"y2":{"datum":2.364}}},
{"data":{"values":[{}]},"mark":{"type":"rect","fill":"#111"},"encoding":{"x":{"datum":{"year":1969,"month":12,"date":1,"utc":true}},"x2":{"datum":{"year":1969,"month":12,"date":2,"hours":18,"utc":true}},"y":{"datum":2},"y2":{"datum":2.364}}},
{"data": {"values": [{}]}, "mark": {"type": "text", "font": "Liberation Sans", "fontSize": 13.5, "color": "#111", "align": "left", "baseline": "middle"}, "encoding": {"x": {"datum": {"year":1966,"month":1,"date":18,"utc":true}}, "y": {"datum": 7.66}, "text": {"value": "Nederland"}}},
{"data": {"values": [{}]}, "mark": {"type": "text", "font": "Liberation Sans", "fontSize": 13.5, "color": "#111", "align": "left", "baseline": "middle"}, "encoding": {"x": {"datum": {"year":1966,"month":1,"date":18,"utc":true}}, "y": {"datum": 7.33}, "text": {"value": "Belgique-België"}}},
{"data": {"values": [{}]}, "mark": {"type": "rule", "color": "#d2164c", "strokeWidth": 2.2}, "encoding": {"x": {"datum": {"year":1966,"month":6,"date":11,"utc":true}}, "x2": {"datum": {"year":1966,"month":8,"date":3,"utc":true}}, "y": {"datum": 7.71}}},
{"data": {"values": [{}]}, "mark": {"type": "rule", "color": "#8b6530", "strokeWidth": 3}, "encoding": {"x": {"datum": {"year":1966,"month":6,"date":8,"utc":true}}, "x2": {"datum": {"year":1966,"month":8,"date":4,"utc":true}}, "y": {"datum": 7.29}}},
{"data": {"name": "be_step"}, "mark": {"type": "line", "interpolate": "step-after", "color": "#8b6530", "strokeWidth": 3}, "encoding": {"x": {"field": "date", "type": "temporal"}, "y": {"field": "v", "type": "quantitative"}}},
{"data": {"name": "nl_step"}, "mark": {"type": "line", "interpolate": "step-after", "color": "#d2164c", "strokeWidth": 2.5}, "encoding": {"x": {"field": "date", "type": "temporal"}, "y": {"field": "v", "type": "quantitative"}}},
{"data": {"name": "be_mkt"}, "mark": {"type": "line", "interpolate": "monotone", "color": "#8b6530", "strokeWidth": 3, "strokeDash": [0.1, 6.3], "strokeCap": "round"}, "encoding": {"x": {"field": "date", "type": "temporal"}, "y": {"field": "v", "type": "quantitative"}}},
{"data": {"name": "nl_mkt"}, "mark": {"type": "line", "interpolate": "monotone", "color": "#d2164c", "strokeWidth": 3.4, "strokeDash": [0.1, 6.3], "strokeCap": "round"}, "encoding": {"x": {"field": "date", "type": "temporal"}, "y": {"field": "v", "type": "quantitative"}}}
]
}
]
}
